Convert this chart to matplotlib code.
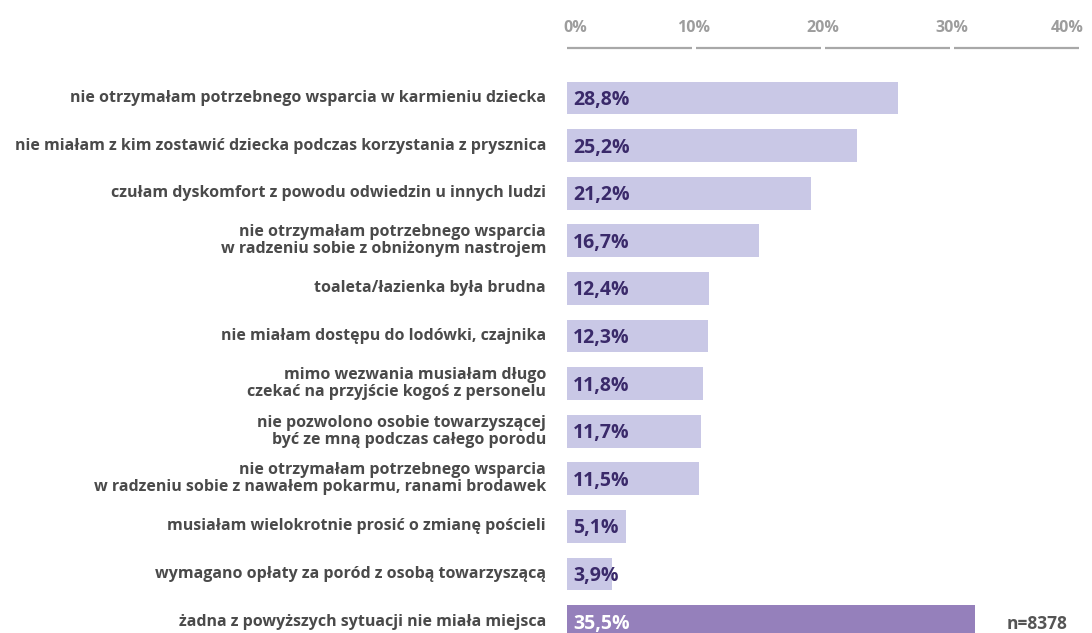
import matplotlib.pyplot as plt
from matplotlib.transforms import offset_copy

# Answers and shares of respondents (%)
labels = [
    'nie otrzymałam potrzebnego wsparcia w karmieniu dziecka',
    'nie miałam z kim zostawić dziecka podczas korzystania z prysznica',
    'czułam dyskomfort z powodu odwiedzin u innych ludzi',
    'nie otrzymałam potrzebnego wsparcia\nw radzeniu sobie z obniżonym nastrojem',
    'toaleta/łazienka była brudna',
    'nie miałam dostępu do lodówki, czajnika',
    'mimo wezwania musiałam długo\nczekać na przyjście kogoś z personelu',
    'nie pozwolono osobie towarzyszącej\nbyć ze mną podczas całego porodu',
    'nie otrzymałam potrzebnego wsparcia\nw radzeniu sobie z nawałem pokarmu, ranami brodawek',
    'musiałam wielokrotnie prosić o zmianę pościeli',
    'wymagano opłaty za poród z osobą towarzyszącą',
    'żadna z powyższych sytuacji nie miała miejsca',
]
values = [28.8, 25.2, 21.2, 16.7, 12.4, 12.3, 11.8, 11.7, 11.5, 5.1, 3.9, 35.5]
scale_ticks = [0, 10, 20, 30, 40]
sample_note = 'n=8378'

W, H = 1092, 633
plt.rcParams['font.family'] = ['Open Sans', 'DejaVu Sans']

fig = plt.figure(figsize=(W / 100, H / 100), dpi=100)

# main bar axes: 0% at x=567 px, 11.49 px per percent
x0, ppp = 567, 11.49
xmax = 45
ax = fig.add_axes([x0 / W, 0, xmax * ppp / W, (633 - 60) / H])
step, first = 47.6, 98
ax.set_xlim(0, xmax)
ax.set_ylim((633 - first) / step, (60 - first) / step)
ax.axis('off')

n = len(values)
colors = ['#c9c8e6'] * (n - 1) + ['#9580bb']
txt_colors = ['#3a2a6a'] * (n - 1) + ['white']
ax.barh(range(n), values, height=0.69, color=colors, clip_on=True)

label_tr = offset_copy(ax.transData, fig=fig, x=-21, y=0, units='dots')
for i, (lab, v) in enumerate(zip(labels, values)):
    ax.text(0, i, lab, transform=label_tr, ha='right', va='center',
            fontsize=11.5, fontweight='bold', color='#4a4a4a', linespacing=1.1)
    ax.text(0.55, i + 0.04, f'{v:.1f}%'.replace('.', ','), ha='left', va='center',
            fontsize=14, fontweight='bold', color=txt_colors[i])

ax.text(43.6, n - 1 + 0.06, sample_note, ha='right', va='center',
        fontsize=12.5, fontweight='bold', color='#555555')

# decorative percentage scale on top
hx0, hx1 = 565, 1081
hax = fig.add_axes([hx0 / W, 1 - 60 / H, (hx1 - hx0) / W, 60 / H])
hax.set_xlim(0, 40)
hax.set_ylim(60, 0)
hax.axis('off')
gap = 0.15
for a, b in zip(scale_ticks[:-1], scale_ticks[1:]):
    hax.plot([a + gap, b - gap], [48, 48], color='#a8a8a8', lw=1.6,
             solid_capstyle='butt', clip_on=False)
for t in scale_ticks:
    ha = 'left' if t == scale_ticks[0] else ('right' if t == scale_ticks[-1] else 'center')
    hax.text(t - 0.1 if t == 0 else (t + 0.2 if t == scale_ticks[-1] else t), 28,
             f'{t}%', ha=ha, va='center',
             fontsize=11.5, fontweight='bold', color='#9d9d9d', clip_on=False)

fig.savefig('out.png', dpi=100)
